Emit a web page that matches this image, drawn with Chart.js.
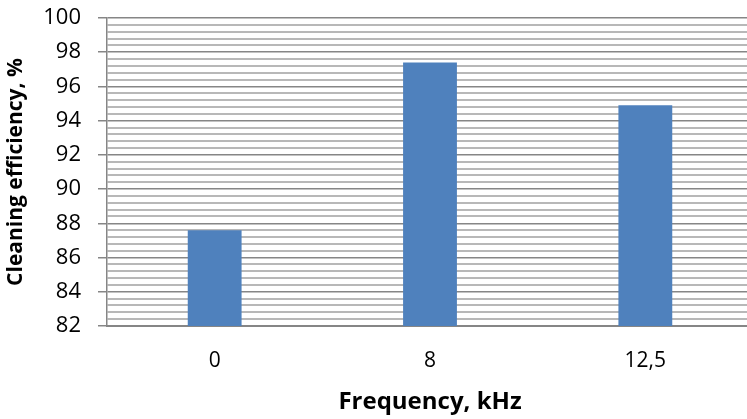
<!DOCTYPE html>
<html>
<head>
<meta charset="utf-8">
<script src="https://cdn.jsdelivr.net/npm/chart.js@4.4.0/dist/chart.umd.min.js"></script>
<style>
  html, body { margin: 0; padding: 0; background: #fff; overflow: hidden; }
  #wrap { width: 747px; height: 419px; overflow: hidden; }
</style>
</head>
<body>
<div id="wrap"><canvas id="chart" width="760" height="419"></canvas></div>
<script>
// data
const categories = ['0', '8', '12,5'];
const efficiency = [87.6, 97.4, 94.9];
const yMin = 82;
const yMax = 100;
const majorStep = 2;
const minorStep = 0.4;

const isMajor = v => Math.abs(v / majorStep - Math.round(v / majorStep)) < 1e-6;

new Chart(document.getElementById('chart'), {
    type: 'bar',
    data: {
        labels: categories,
        datasets: [{
            data: efficiency,
            backgroundColor: '#4F81BD',
            borderWidth: 0,
            categoryPercentage: 1,
            barPercentage: 0.25
        }]
    },
    options: {
        responsive: false,
        animation: false,
        layout: { padding: { top: 18, right: 7, bottom: 0, left: 0 } },
        plugins: { legend: { display: false }, tooltip: { enabled: false } },
        scales: {
            x: {
                afterFit: s => { s.height = 93; s.paddingLeft = 0; s.paddingRight = 0; },
                grid: { display: false, drawTicks: false },
                border: { display: true, color: '#868686', width: 2 },
                ticks: { color: '#000', padding: 22, font: { family: 'Open Sans', size: 21 } },
                title: {
                    display: true,
                    text: 'Frequency, kHz',
                    color: '#000',
                    padding: { top: 0, bottom: 2 },
                    font: { family: 'Open Sans', size: 24, weight: 'bold' }
                }
            },
            y: {
                min: yMin,
                max: yMax,
                afterFit: s => { s.width = 107; s.paddingTop = 0; s.paddingBottom = 0; },
                afterBuildTicks: s => {
                    const t = [];
                    for (let i = 0; i <= Math.round((yMax - yMin) / minorStep); i++) {
                        t.push({ value: +(yMin + i * minorStep).toFixed(2) });
                    }
                    s.ticks = t;
                },
                grid: {
                    color: c => isMajor(c.tick.value) ? '#868686' : '#b8b8b8',
                    lineWidth: c => isMajor(c.tick.value) ? 1.5 : 2,
                    tickColor: c => isMajor(c.tick.value) ? '#868686' : 'rgba(0,0,0,0)',
                    tickLength: 9
                },
                border: { display: true, color: '#868686', width: 1.5 },
                ticks: {
                    color: '#000',
                    padding: 17,
                    autoSkip: false,
                    font: { family: 'Open Sans', size: 22 },
                    callback: v => isMajor(v) ? String(Math.round(v)) : ''
                },
                title: {
                    display: true,
                    text: 'Cleaning efficiency, %',
                    color: '#000',
                    padding: { top: 3, bottom: 0 },
                    font: { family: 'Open Sans', size: 21, weight: 'bold' }
                }
            }
        }
    }
});
</script>
</body>
</html>
